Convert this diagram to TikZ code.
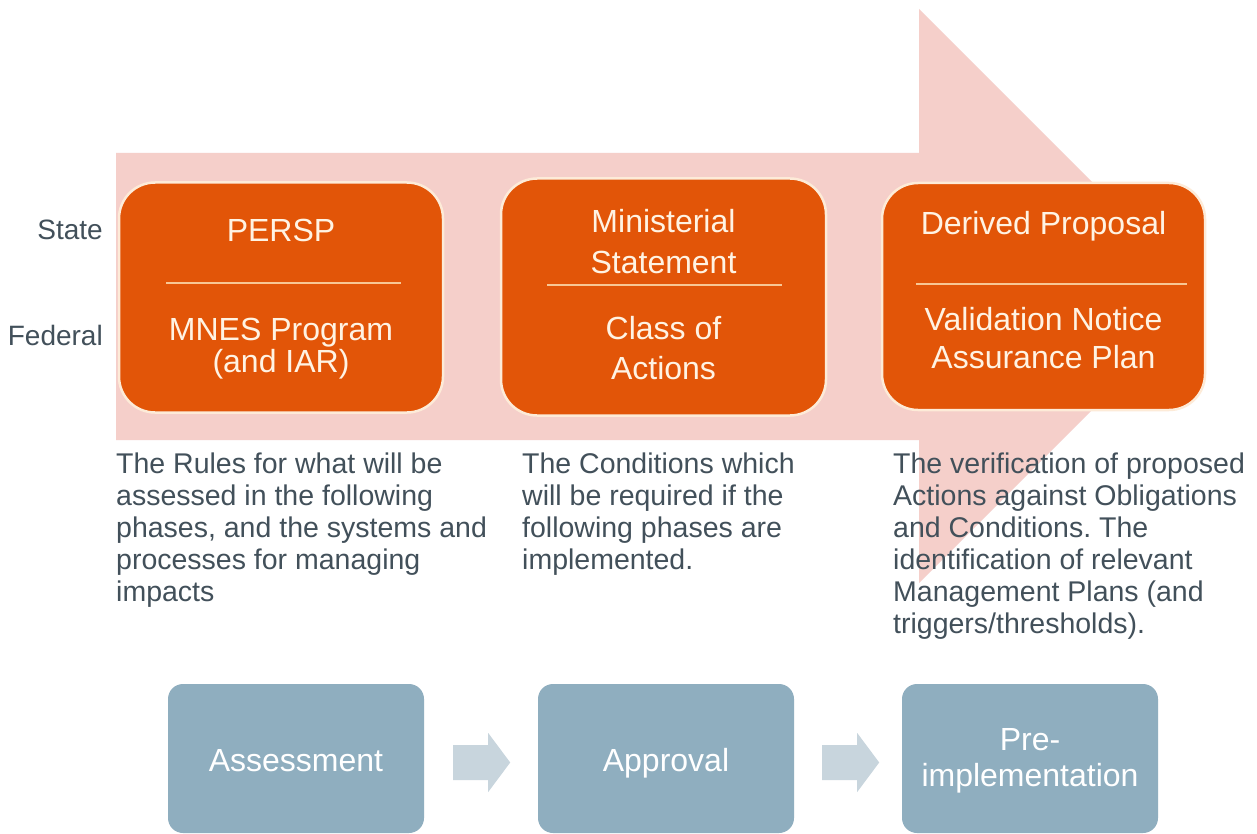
\documentclass[tikz,border=0pt]{standalone}
\usepackage{fontspec}
\setmainfont{Liberation Sans}
\usetikzlibrary{calc}
\frenchspacing
\definecolor{arrowpink}{HTML}{F5CFCA}
\definecolor{boxorange}{HTML}{E25508}
\definecolor{boxrim}{HTML}{FDEBD8}
\definecolor{divider}{HTML}{F8C795}
\definecolor{boxtext}{HTML}{FFF3E3}
\definecolor{desctext}{HTML}{42505A}
\definecolor{phasebox}{HTML}{8FAEBF}
\definecolor{phasearrow}{HTML}{C8D5DD}
\tikzset{
  orangebox/.style={draw=boxrim, line width=2.5pt, fill=boxorange, rounded corners=36pt, inner sep=0pt},
  divline/.style={draw=divider, line width=1.6pt},
  boxline/.style={text=boxtext, anchor=base, inner sep=0pt, font=\fontsize{32}{38}\selectfont},
  sidelabel/.style={text=desctext, anchor=base east, inner sep=0pt, font=\fontsize{28}{32}\selectfont},
  descline/.style={text=desctext, anchor=base west, inner sep=0pt, font=\fontsize{28.5}{32}\selectfont},
  phase/.style={fill=phasebox, rounded corners=15pt, inner sep=0pt, minimum width=256pt, minimum height=149pt},
  phaseline/.style={text=white, anchor=base, inner sep=0pt, font=\fontsize{32}{38}\selectfont},
  smallarrow/.style={fill=phasearrow},
}
\begin{document}
\begin{tikzpicture}[x=1pt, y=-1pt]
\useasboundingbox[fill=white] (0,0) rectangle (1257,834);
% big background arrow
\fill[arrowpink] (116,153) -- (919,153) -- (919,9) -- (1206,296) -- (919,583) -- (919,440) -- (116,440) -- cycle;

% orange boxes
\node[orangebox, minimum width=324pt, minimum height=230pt] (b1) at (281,297.5) {};
\node[orangebox, minimum width=325pt, minimum height=237pt] (b2) at (663.5,297) {};
\node[orangebox, minimum width=323pt, minimum height=227pt] (b3) at (1043.5,296.5) {};

\draw[divline] (166,283) coordinate (d1a) -- (401,283) coordinate (d1b);
\draw[divline] (547,285) coordinate (d2a) -- (782,285) coordinate (d2b);
\draw[divline] (916,284) coordinate (d3a) -- (1187,284) coordinate (d3b);

\node[boxline] (t1a) at (281,242) {PERSP};
\node[boxline] (t1b) at (281,340) {MNES Program};
\node[boxline] (t1c) at (281,372) {(and IAR)};

\node[boxline] (t2a) at (663.5,233) {Ministerial};
\node[boxline] (t2b) at (663.5,273) {Statement};
\node[boxline] (t2c) at (663.5,339) {Class of};
\node[boxline] (t2d) at (663.5,379) {Actions};

\node[boxline] (t3a) at (1043.5,235) {Derived Proposal};
\node[boxline] (t3b) at (1043.5,330) {Validation Notice};
\node[boxline] (t3c) at (1043.5,368) {Assurance Plan};

% side labels
\node[sidelabel] (state) at (103,240) {State};
\node[sidelabel] (federal) at (103,345) {Federal};

% descriptions
\node[descline] (c1l1) at (116,473) {The Rules for what will be};
\node[descline] (c1l2) at (116,505) {assessed in the following};
\node[descline] (c1l3) at (116,537) {phases, and the systems and};
\node[descline] (c1l4) at (116,569) {processes for managing};
\node[descline] (c1l5) at (116,601) {impacts};

\node[descline] (c2l1) at (522,473) {The Conditions which};
\node[descline] (c2l2) at (522,505) {will be required if the};
\node[descline] (c2l3) at (522,537) {following phases are};
\node[descline] (c2l4) at (522,569) {implemented.};

\node[descline] (c3l1) at (893,473) {The verification of proposed};
\node[descline] (c3l2) at (893,505) {Actions against Obligations};
\node[descline] (c3l3) at (893,537) {and Conditions. The};
\node[descline] (c3l4) at (893,569) {identification of relevant};
\node[descline] (c3l5) at (893,601) {Management Plans (and};
\node[descline] (c3l6) at (893,633) {triggers/thresholds).};

% phase boxes
\node[phase] (a1) at (296,758.5) {};
\node[phase] (a2) at (666,758.5) {};
\node[phase] (a3) at (1030,758.5) {};
\node[phaseline] (a1t) at (296,771) {Assessment};
\node[phaseline] (a2t) at (666,771) {Approval};
\node[phaseline] (a3t) at (1030,750) {Pre-};
\node[phaseline] (a3u) at (1030,786) {implementation};

% small arrows
\fill[smallarrow] ($(a1.east)+(29,-13.5)$) -- ++(35,0) -- ++(0,-12) -- ++(22,29.5) -- ++(-22,29.5) -- ++(0,-12) -- ++(-35,0) -- cycle;
\fill[smallarrow] ($(a2.east)+(28,-13.5)$) -- ++(35,0) -- ++(0,-12) -- ++(22,29.5) -- ++(-22,29.5) -- ++(0,-12) -- ++(-35,0) -- cycle;
\end{tikzpicture}
\end{document}
